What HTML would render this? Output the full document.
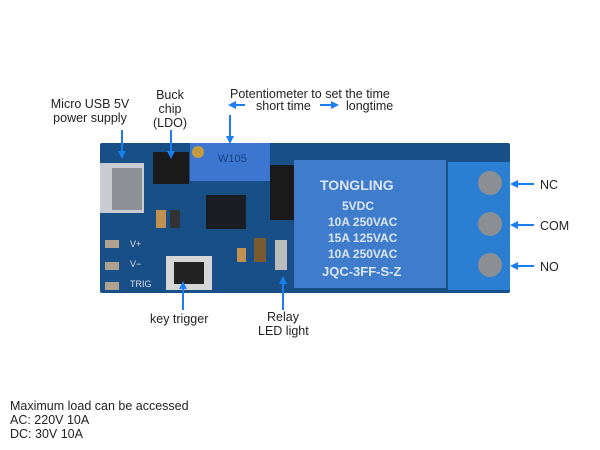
<!DOCTYPE html><html><head><style>
body{margin:0;width:600px;height:450px;background:#fff;position:relative;overflow:hidden;font-family:"Liberation Sans",sans-serif}
.t{position:absolute;font-size:12.5px;color:#222;line-height:14px;text-align:center;white-space:nowrap}
.a{position:absolute;background:#1a7ef0}
</style></head><body>
<svg width="600" height="450" style="position:absolute;left:0;top:0">
<defs><marker id="m" markerWidth="8" markerHeight="8" refX="4" refY="4" orient="auto" markerUnits="userSpaceOnUse"><path d="M0,0 L8,4 L0,8z" fill="#1a7ef0"/></marker></defs>
<!-- board -->
<rect x="100" y="143" width="410" height="150" fill="#174f86" rx="2"/>
<!-- usb -->
<rect x="100" y="163" width="44" height="50" fill="#c9ccd0"/>
<rect x="112" y="168" width="30" height="42" fill="#8d9196"/>
<!-- buck -->
<rect x="153" y="152" width="36" height="32" fill="#1a1a1a"/>
<!-- pot -->
<rect x="190" y="143" width="80" height="38" fill="#3c76d0"/>
<circle cx="198" cy="152" r="6" fill="#c29a40"/>
<text x="218" y="162" font-size="11" fill="#1a3f80" font-family="Liberation Sans">W105</text>
<!-- chip -->
<rect x="206" y="195" width="40" height="34" fill="#1a1d22"/>
<rect x="270" y="165" width="26" height="55" fill="#1a1a1a"/>
<!-- relay -->
<rect x="294" y="160" width="152" height="128" fill="#3f7ccb"/>
<text x="320" y="190" font-size="14" font-weight="bold" fill="#dce6f5">TONGLING</text>
<text x="342" y="210" font-size="12" font-weight="bold" fill="#dce6f5">5VDC</text>
<text x="328" y="226" font-size="12" font-weight="bold" fill="#dce6f5">10A 250VAC</text>
<text x="328" y="242" font-size="12" font-weight="bold" fill="#dce6f5">15A 125VAC</text>
<text x="328" y="258" font-size="12" font-weight="bold" fill="#dce6f5">10A 250VAC</text>
<text x="322" y="276" font-size="13" font-weight="bold" fill="#dce6f5">JQC-3FF-S-Z</text>
<!-- terminal -->
<rect x="448" y="162" width="62" height="128" fill="#2a7fd3"/>
<circle cx="490" cy="183" r="12" fill="#8b8f93"/>
<circle cx="490" cy="224" r="12" fill="#8b8f93"/>
<circle cx="490" cy="265" r="12" fill="#8b8f93"/>
<!-- switch -->
<rect x="166" y="256" width="46" height="34" fill="#d6d6d6"/>
<rect x="174" y="262" width="30" height="22" fill="#222"/>
<!-- pads -->
<rect x="105" y="240" width="14" height="8" fill="#b0a090"/>
<rect x="105" y="262" width="14" height="8" fill="#b0a090"/>
<rect x="105" y="282" width="14" height="8" fill="#b0a090"/>
<text x="130" y="247" font-size="9" fill="#dde">V+</text>
<text x="130" y="267" font-size="9" fill="#dde">V−</text>
<text x="130" y="287" font-size="9" fill="#dde">TRIG</text>
<!-- smd -->
<rect x="156" y="210" width="10" height="18" fill="#c09050"/>
<rect x="170" y="210" width="10" height="18" fill="#333"/>
<rect x="237" y="248" width="9" height="14" fill="#c09050"/>
<rect x="254" y="238" width="12" height="24" fill="#7a5a30"/>
<rect x="275" y="240" width="12" height="30" fill="#bbb"/>
<!-- arrows -->
<g stroke="#1a7ef0" stroke-width="2" fill="none">
<line x1="122" y1="130" x2="122" y2="155" marker-end="url(#m)"/>
<line x1="171" y1="130" x2="171" y2="155" marker-end="url(#m)"/>
<line x1="230" y1="115" x2="230" y2="140" marker-end="url(#m)"/>
<line x1="245" y1="105" x2="232" y2="105" marker-end="url(#m)"/>
<line x1="320" y1="105" x2="335" y2="105" marker-end="url(#m)"/>
<line x1="534" y1="184" x2="514" y2="184" marker-end="url(#m)"/>
<line x1="534" y1="225" x2="514" y2="225" marker-end="url(#m)"/>
<line x1="534" y1="266" x2="514" y2="266" marker-end="url(#m)"/>
<line x1="183" y1="310" x2="183" y2="285" marker-end="url(#m)"/>
<line x1="283" y1="310" x2="283" y2="280" marker-end="url(#m)"/>
</g>
</svg>
<div class="t" style="left:40px;top:97px;width:100px">Micro USB 5V<br>power supply</div>
<div class="t" style="left:150px;top:88px;width:40px">Buck<br>chip<br>(LDO)</div>
<div class="t" style="left:230px;top:87px;text-align:left">Potentiometer to set the time</div>
<div class="t" style="left:256px;top:99px;text-align:left">short time</div>
<div class="t" style="left:346px;top:99px;text-align:left">longtime</div>
<div class="t" style="left:540px;top:178px">NC</div>
<div class="t" style="left:540px;top:219px">COM</div>
<div class="t" style="left:540px;top:260px">NO</div>
<div class="t" style="left:150px;top:312px">key trigger</div>
<div class="t" style="left:258px;top:310px;width:50px">Relay<br>LED light</div>
<div class="t" style="left:10px;top:399px;text-align:left;line-height:14px">Maximum load can be accessed<br>AC: 220V 10A<br>DC: 30V 10A</div>
</body></html>
